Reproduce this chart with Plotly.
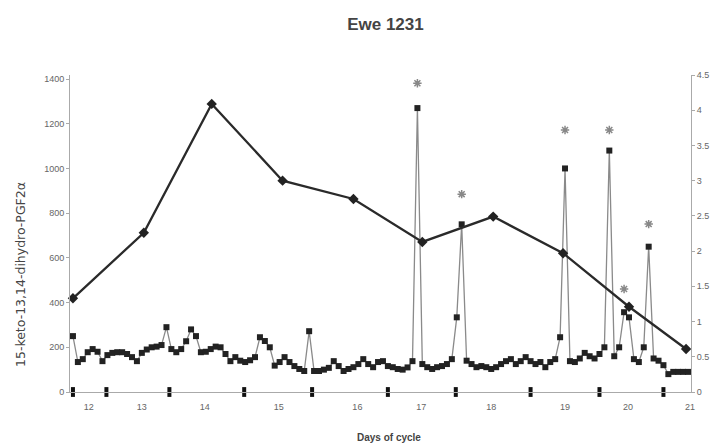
import plotly.graph_objects as go

# --- data ---
# PGFM-like series (left axis), one value per sample index
pgfm = [
    250, 134, 147, 178, 192, 180, 138, 165, 175, 178,
    178, 170, 156, 138, 175, 190, 200, 203, 210, 290,
    192, 178, 192, 227, 280, 250, 178, 180, 192, 203,
    200, 170, 138, 156, 140, 134, 142, 156, 245, 228,
    200, 118, 134, 156, 134, 116, 103, 94, 272, 94,
    94, 100, 108, 138, 116, 94, 103, 111, 125, 147,
    125, 111, 134, 138, 116, 111, 103, 100, 110, 138,
    1270, 125, 111, 103, 111, 116, 125, 147, 334, 750,
    140, 125, 111, 116, 111, 103, 111, 125, 138, 147,
    125, 138, 156, 138, 125, 134, 111, 134, 147, 245,
    1000, 138, 134, 150, 175, 160, 150, 170, 200, 1080,
    160, 200, 357, 334, 147, 134, 200, 650, 150, 140,
    120, 80, 90, 90, 90, 90,
]
sample_idx = list(range(len(pgfm)))

# daily series (right axis)
day_idx = [0, 14.4, 28.2, 42.6, 57, 71, 85.4, 99.6, 113, 124.6]
day_vals = [1.33, 2.26, 4.09, 3.0, 2.74, 2.13, 2.49, 1.97, 1.21, 0.61]

# significant pulses (asterisks)
star_idx = [70, 79, 100, 109, 112, 117]
star_vals = [1381, 885, 1172, 1172, 461, 751]

# day boundary markers on the baseline
mark_idx = [0, 6.8, 19.6, 34.8, 48.6, 64, 77.8, 93, 107, 120]
mark_vals = [0] * len(mark_idx)

# x tick labels
tick_pos = [3.2, 14, 26.8, 41.8, 57.8, 70.8, 85, 100, 112.8, 125.4]
tick_text = ["12", "13", "14", "15", "16", "17", "18", "19", "20", "21"]

left_ticks = [0, 200, 400, 600, 800, 1000, 1200, 1400]
right_ticks = [0, 0.5, 1, 1.5, 2, 2.5, 3, 3.5, 4, 4.5]

FONT = "Liberation Sans, Arial, sans-serif"
GREY = "#666666"

fig = go.Figure()

fig.add_trace(go.Scatter(
    x=sample_idx, y=pgfm, mode="lines+markers",
    line=dict(color="#8a8a8a", width=1.3),
    marker=dict(symbol="square", size=6, color="#222222"),
    cliponaxis=False, showlegend=False, yaxis="y"))

fig.add_trace(go.Scatter(
    x=day_idx, y=day_vals, mode="lines+markers",
    line=dict(color="#2a2a2a", width=2.3),
    marker=dict(symbol="diamond", size=8, color="#222222"),
    cliponaxis=False, showlegend=False, yaxis="y2"))

fig.add_trace(go.Scatter(
    x=star_idx, y=star_vals, mode="markers",
    marker=dict(symbol="asterisk-open", size=7, color="#888888",
                line=dict(color="#888888", width=1.5)),
    showlegend=False, yaxis="y"))

fig.add_trace(go.Scatter(
    x=mark_idx, y=mark_vals, mode="markers",
    marker=dict(symbol="line-ns-open", size=7, color="#111111",
                line=dict(color="#111111", width=4)),
    cliponaxis=False, showlegend=False, yaxis="y"))

fig.update_layout(
    width=721, height=445,
    margin=dict(l=70, r=23, t=75, b=53),
    paper_bgcolor="white", plot_bgcolor="white",
    font=dict(family=FONT, color=GREY, size=9),
    title=dict(text="<b>Ewe 1231</b>", x=0.508, xref="paper",
               y=0.946, yanchor="middle",
               font=dict(family=FONT, size=17, color="#444444")),
    xaxis=dict(range=[-0.6, 125.6], tickmode="array",
               tickvals=tick_pos, ticktext=tick_text,
               showgrid=False, zeroline=False,
               showline=True, linecolor="#aaaaaa", linewidth=1,
               ticks="outside", ticklen=6, tickcolor="rgba(0,0,0,0)",
               tickfont=dict(size=9, color=GREY)),
    yaxis=dict(range=[0, 1418], tickmode="array", tickvals=left_ticks,
               showgrid=False, zeroline=False,
               showline=True, linecolor="#aaaaaa", linewidth=1,
               ticks="outside", ticklen=3, tickcolor="#aaaaaa",
               tickfont=dict(size=9, color=GREY)),
    yaxis2=dict(range=[0, 4.5], overlaying="y", side="right",
                tickmode="array", tickvals=right_ticks,
                showgrid=False, zeroline=False,
                showline=True, linecolor="#aaaaaa", linewidth=1,
                ticks="outside", ticklen=3, tickcolor="#aaaaaa",
                tickfont=dict(size=9, color=GREY)),
    annotations=[
        dict(text="15-keto-13,14-dihydro-PGF2α", xref="paper", yref="paper",
             x=-0.08, y=0.37, textangle=-90, showarrow=False,
             xanchor="center", yanchor="middle",
             font=dict(family="DejaVu Sans, sans-serif", size=12.5, color="#444444")),
        dict(text="<b>Days of cycle</b>", xref="paper", yref="paper",
             x=0.513, y=-0.145, showarrow=False,
             xanchor="center", yanchor="middle",
             font=dict(family=FONT, size=10, color="#444444")),
    ],
)

fig.write_html("out.html", config={"displayModeBar": False},
               post_script="document.body.style.margin='0';document.body.style.overflow='hidden';")
